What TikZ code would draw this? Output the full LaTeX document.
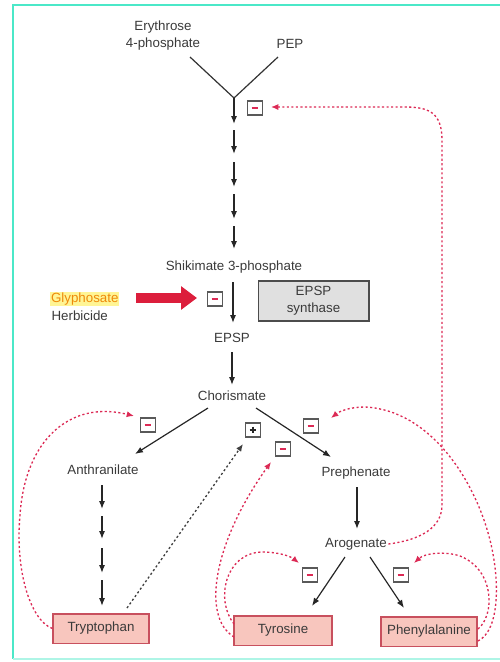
\documentclass[tikz,border=0pt]{standalone}
\usepackage{fontspec}
\setmainfont{Liberation Sans}
\usetikzlibrary{arrows.meta,calc}
\definecolor{txt}{HTML}{3A3A3A}
\definecolor{fb}{HTML}{DC2A55}
\definecolor{aafill}{HTML}{F8C6BE}
\definecolor{aaline}{HTML}{C8505E}
\definecolor{framec}{HTML}{4BE8C8}
\definecolor{glyarrow}{HTML}{DC1E3C}
\definecolor{glytext}{HTML}{EE8A0A}
\definecolor{glyhl}{HTML}{FFF27A}
\begin{document}
\begin{tikzpicture}[x=0.75pt,y=-0.75pt,
  lbl/.style={font=\fontsize{10}{12.75}\selectfont, text=txt, inner sep=1pt},
  arr/.style={draw=black!85, line width=0.9pt, -{Latex[length=6pt,width=4.6pt]}},
  seg/.style={draw=black!80, line width=0.9pt},
  sqbox/.style={draw=black!65, line width=0.8pt, minimum width=11pt, minimum height=10.5pt, inner sep=0pt},
  mbox/.style={sqbox, path picture={\draw[fb, line width=0.9pt]
      ($(path picture bounding box.center)+(-3.4,0)$) -- ($(path picture bounding box.center)+(3.4,0)$);}},
  pbox/.style={sqbox, path picture={\draw[black!85, line width=0.9pt]
      ($(path picture bounding box.center)+(-3.4,0)$) -- ($(path picture bounding box.center)+(3.4,0)$)
      ($(path picture bounding box.center)+(0,-3.4)$) -- ($(path picture bounding box.center)+(0,3.4)$);}},
  aabox/.style={draw=aaline, fill=aafill, line width=1pt, minimum width=72pt, minimum height=22pt, inner sep=0pt, font=\fontsize{10}{12}\selectfont, text=txt},
  fbk/.style={draw=fb, line width=1pt, dash pattern=on 1.6pt off 1.8pt, -{Latex[length=5.5pt,width=4.6pt]}},
  bdash/.style={draw=black!75, line width=1pt, dash pattern=on 1.6pt off 1.8pt, -{Latex[length=5.5pt,width=4.6pt]}},
]
\useasboundingbox (0,0) rectangle (500,662);
% frame
\draw[framec, line width=2.2pt] (502,5) -- (13,5) -- (13,659);
\draw[framec!45, line width=1.5pt] (13,659) -- (502,659);

% top substrates
\node[lbl, align=center] (ery) at (163,36) {Erythrose\\4-phosphate};
\node[lbl] (pep) at (290,44) {PEP};
\coordinate (e1) at (190,57);
\coordinate (p1) at (278,57);
\coordinate (j) at (234,98);
\draw[seg] (e1) -- (j) -- (p1);

% vertical chain
\coordinate (k1) at (234,124);
\coordinate (k2) at (234,130);
\coordinate (k3) at (234,154);
\coordinate (k4) at (234,162);
\coordinate (k5) at (234,187);
\coordinate (k6) at (234,194);
\coordinate (k7) at (234,219);
\coordinate (k8) at (234,226);
\coordinate (k9) at (234,249);
\draw[arr] (j) -- (k1);
\draw[arr] (k2) -- (k3);
\draw[arr] (k4) -- (k5);
\draw[arr] (k6) -- (k7);
\draw[arr] (k8) -- (k9);

\node[mbox] (m1) at (255,108) {};

\node[lbl] (shik) at (234,267) {Shikimate 3-phosphate};
\node[lbl] (epsp) at (232,338) {EPSP};
\node[lbl] (chor) at (232,396) {Chorismate};
\draw[arr] (233,282) -- (233,323);
\node[mbox] (m2) at (215,299) {};
\node[draw=black!70, fill=black!12, line width=1pt, minimum width=83pt, minimum height=30pt, align=center, lbl] (epsps) at (313.5,301) {EPSP\\synthase};

% glyphosate
\node[lbl, anchor=west, text=glytext, fill=glyhl!80, inner sep=0.6pt] (gly) at (50,299) {Glyphosate};
\node[lbl, anchor=west] (herb) at (50,316) {Herbicide};
\coordinate (g1) at (136,298);
\coordinate (g2) at (197,298);
\draw[glyarrow, line width=6.8pt, -{Triangle[length=12pt,width=17pt]}] (g1) -- (g2);

\draw[arr] (232,352) -- (232,385);

% branches
\node[lbl] (anth) at (103,470) {Anthranilate};
\node[lbl] (prep) at (356,473) {Prephenate};
\node[lbl] (arog) at (356,544) {Arogenate};
\draw[arr] (208,408) -- (135,454);
\draw[arr] (256,408) -- (331,457);

\node[mbox] (m3) at (148,425) {};
\node[pbox] (pl) at (253,430) {};
\node[mbox] (m4) at (283,449) {};
\node[mbox] (m5) at (311,426) {};
\node[mbox] (m6) at (310,575) {};
\node[mbox] (m7) at (401,575) {};

% anthranilate chain
\draw[arr] (102,485) -- (102,509);
\draw[arr] (102,516) -- (102,539);
\draw[arr] (102,548) -- (102,573);
\draw[arr] (102,580) -- (102,606);

\draw[arr] (357,487) -- (357,529);
\draw[arr] (345,557) -- (312,606);
\draw[arr] (370,557) -- (404,608);

% amino acids
\node[aabox] (tryp) at (101,628.5) {Tryptophan};
\node[aabox, minimum width=73.5pt] (tyr) at (283,630.5) {Tyrosine};
\node[aabox] (phe) at (429,631.5) {Phenylalanine};

% tryptophan feedback
\draw[fbk] (tryp.west) .. controls (30,620) and (15,570) .. (20,515)
  .. controls (25,440) and (70,400) .. (134,416);
\draw[bdash] (127,608) -- (243,444);

% tyrosine feedbacks
\draw[fbk] (234,637) .. controls (200,616) and (215,540) .. (271,462);
\draw[fbk] (234,624) .. controls (215,600) and (225,553) .. (262,552)
  .. controls (278,552) and (290,556) .. (299,563);

% phenylalanine feedbacks
\draw[fbk] (478,629) .. controls (495,615) and (495,570) .. (460,556)
  .. controls (445,551) and (425,553) .. (414,563);
\draw[fbk] (478,641) .. controls (500,630) and (500,580) .. (490,540)
  .. controls (475,480) and (430,410) .. (365,407)
  .. controls (350,407) and (340,411) .. (331,418);

% arogenate feedback to the top
\draw[fbk] (arog.east) .. controls (420,540) and (442,528) .. (442,505)
  -- (442,140) .. controls (442,112) and (428,107) .. (405,107) -- (271,107);
\end{tikzpicture}
\end{document}
